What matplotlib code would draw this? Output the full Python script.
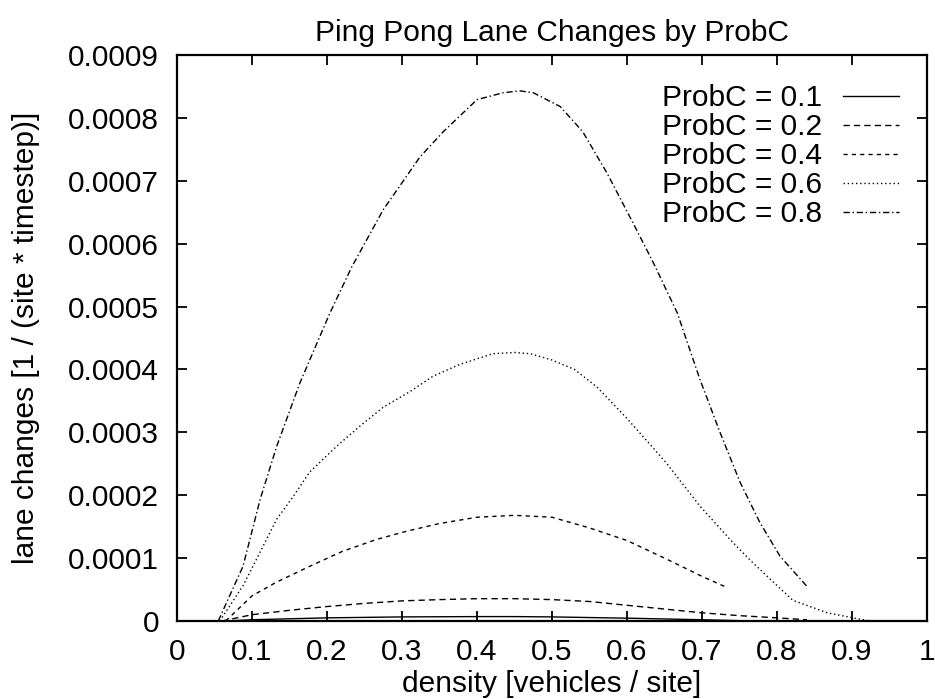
import matplotlib
matplotlib.use("Agg")
import matplotlib.pyplot as plt
import numpy as np

plt.rcParams['font.family'] = ['Liberation Sans', 'DejaVu Sans']

labels = ["ProbC = 0.1", "ProbC = 0.2", "ProbC = 0.4", "ProbC = 0.6", "ProbC = 0.8"]

x_p01 = [0.065, 0.1, 0.2, 0.3, 0.4, 0.45, 0.5, 0.6, 0.7, 0.75]
y_p01 = [0.0, 0.02, 0.05, 0.065, 0.07, 0.07, 0.065, 0.045, 0.02, 0.005]

x_p02 = [0.06, 0.1, 0.15, 0.2, 0.25, 0.3, 0.35, 0.4, 0.45, 0.5, 0.55, 0.6, 0.65, 0.7, 0.75, 0.8, 0.84]
y_p02 = [0.0, 0.1, 0.17, 0.23, 0.28, 0.32, 0.34, 0.355, 0.355, 0.34, 0.31, 0.25, 0.19, 0.13, 0.085, 0.05, 0.02]

x_p04 = [0.065, 0.1, 0.133, 0.177, 0.221, 0.267, 0.307, 0.35, 0.4, 0.45, 0.5, 0.55, 0.6, 0.65, 0.7, 0.73]
y_p04 = [0.0, 0.4, 0.62, 0.87, 1.11, 1.3, 1.43, 1.55, 1.65, 1.68, 1.65, 1.48, 1.28, 1.0, 0.71, 0.55]

x_p06 = [0.057, 0.088, 0.111, 0.133, 0.155, 0.177, 0.213, 0.244, 0.275, 0.311, 0.341, 0.377, 0.421,
         0.45, 0.471, 0.5, 0.53, 0.56, 0.6, 0.652, 0.697, 0.741, 0.764, 0.787, 0.821, 0.867, 0.91, 0.925]
y_p06 = [0.0, 0.56, 1.1, 1.62, 1.98, 2.37, 2.78, 3.1, 3.4, 3.65, 3.89, 4.08, 4.25,
         4.27, 4.25, 4.15, 4.0, 3.72, 3.22, 2.52, 1.83, 1.25, 0.97, 0.71, 0.33, 0.13, 0.03, 0.0]

x_p08 = [0.055, 0.088, 0.111, 0.133, 0.164, 0.204, 0.233, 0.275, 0.324, 0.355, 0.40, 0.435, 0.457,
         0.475, 0.511, 0.541, 0.573, 0.608, 0.635, 0.667, 0.697, 0.724, 0.751, 0.777, 0.804, 0.84]
y_p08 = [0.0, 0.87, 1.94, 2.78, 3.79, 4.9, 5.63, 6.54, 7.38, 7.78, 8.29, 8.40, 8.43,
         8.40, 8.18, 7.78, 7.13, 6.33, 5.7, 4.9, 3.85, 3.0, 2.2, 1.57, 1.03, 0.55]

x_ticks = [0, 0.1, 0.2, 0.3, 0.4, 0.5, 0.6, 0.7, 0.8, 0.9, 1]
x_ticklabels = ["0", "0.1", "0.2", "0.3", "0.4", "0.5", "0.6", "0.7", "0.8", "0.9", "1"]
y_ticks = [0, 0.0001, 0.0002, 0.0003, 0.0004, 0.0005, 0.0006, 0.0007, 0.0008, 0.0009]
y_ticklabels = ["0", "0.0001", "0.0002", "0.0003", "0.0004", "0.0005", "0.0006", "0.0007", "0.0008", "0.0009"]

series = [(x_p01, y_p01), (x_p02, y_p02), (x_p04, y_p04), (x_p06, y_p06), (x_p08, y_p08)]
styles = ['-', (0, (4.5, 3)), (0, (3, 3)), (0, (1, 2)), (0, (4.5, 2, 1, 2))]

fs = 21.5
fig = plt.figure(figsize=(9.35, 6.99), dpi=100)
ax = fig.add_axes([177/935, 1-621/699, 750/935, 566/699])

for (xs, ys), lab, ls in zip(series, labels, styles):
    ax.plot(xs, np.array(ys) * 1e-4, color='black', lw=1.0, linestyle=ls, label=lab)

ax.set_xlim(0, 1)
ax.set_ylim(0, 0.0009)
ax.set_xticks(x_ticks)
ax.set_xticklabels(x_ticklabels)
ax.set_yticks(y_ticks)
ax.set_yticklabels(y_ticklabels)
ax.tick_params(direction='in', length=7, width=1.3, top=True, right=True, labelsize=fs)
ax.tick_params(axis='x', pad=12)
ax.tick_params(axis='y', pad=13)
for s in ax.spines.values():
    s.set_linewidth(1.6)

ax.set_title("Ping Pong Lane Changes by ProbC", fontsize=fs, pad=10)
ax.set_xlabel("density [vehicles / site]", fontsize=fs, labelpad=3)
ax.set_ylabel("lane changes [1 / (site * timestep)]", fontsize=fs, labelpad=20)

leg = ax.legend(loc='upper right', frameon=False, fontsize=fs, markerfirst=False,
                handlelength=1.85, handletextpad=0.7, labelspacing=0.03,
                borderaxespad=0.0, bbox_to_anchor=(0.978, 0.969))

fig.savefig("out.png", dpi=100)
